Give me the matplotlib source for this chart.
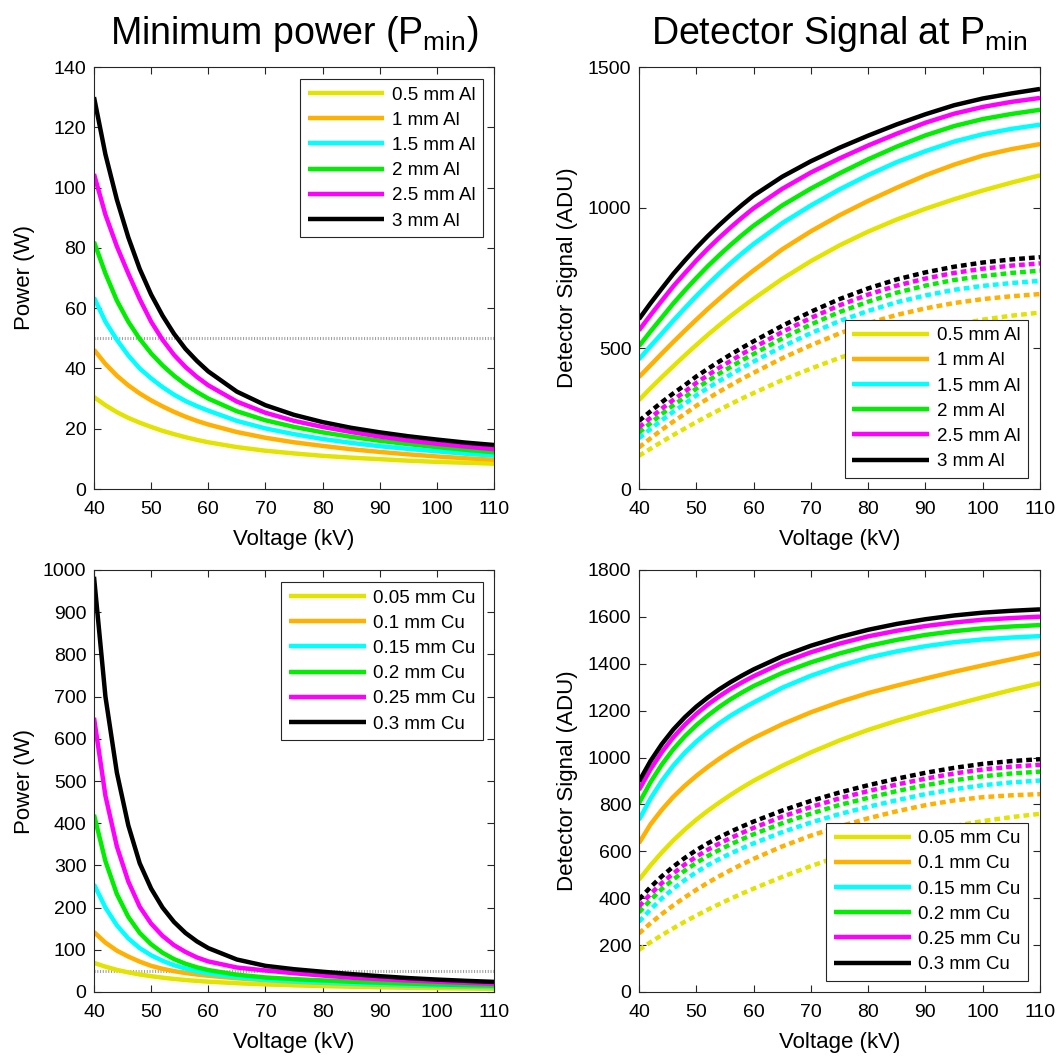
import matplotlib
matplotlib.use("Agg")
import matplotlib.pyplot as plt

plt.rcParams['font.family'] = ['Liberation Sans', 'DejaVu Sans']
plt.rcParams['mathtext.fontset'] = 'custom'
plt.rcParams['mathtext.rm'] = 'Liberation Sans'
plt.rcParams['mathtext.it'] = 'Liberation Sans:italic'

# Tube voltage grid (kV)
voltage = [40, 42, 44, 46, 48, 50, 52, 54, 56, 58, 60, 65, 70, 75, 80, 85, 90, 95, 100, 105, 110]

colors = ['#e3e300', '#ffb000', '#00ffff', '#00ee00', '#ff00ff', '#000000']
al_labels = ['0.5 mm Al', '1 mm Al', '1.5 mm Al', '2 mm Al', '2.5 mm Al', '3 mm Al']
cu_labels = ['0.05 mm Cu', '0.1 mm Cu', '0.15 mm Cu', '0.2 mm Cu', '0.25 mm Cu', '0.3 mm Cu']

# Minimum power (W), aluminium filters
pmin_al_05 = [30.5, 27.8, 25.5, 23.6, 22, 20.6, 19.3, 18.2, 17.2, 16.3, 15.5, 13.9, 12.7, 11.8, 11, 10.4, 9.9, 9.4, 9, 8.7, 8.4]
pmin_al_10 = [46.2, 41.5, 37.6, 34.4, 31.7, 29.4, 27.4, 25.6, 24, 22.6, 21.4, 18.9, 17, 15.5, 14.3, 13.2, 12.3, 11.5, 10.8, 10.2, 9.7]
pmin_al_15 = [63.5, 55.5, 49.5, 44.3, 40, 36.7, 33.8, 31.3, 29.2, 27.5, 26, 22.6, 20.1, 18.2, 16.6, 15.3, 14.2, 13.3, 12.5, 11.7, 11.1]
pmin_al_20 = [82, 71.5, 62.5, 55.5, 49.8, 45, 41, 37.6, 34.7, 32.2, 30, 25.8, 22.8, 20.6, 18.8, 17.3, 16, 14.9, 13.9, 13, 12.2]
pmin_al_25 = [104.5, 91, 80.5, 71.5, 63, 55.5, 49.5, 44.5, 40.5, 37.2, 34.4, 29, 25.3, 22.6, 20.6, 18.9, 17.4, 16.1, 15, 14.1, 13.2]
pmin_al_30 = [130, 111, 96, 83.5, 73, 64.5, 57.5, 51.5, 46.5, 42.5, 39, 32.3, 27.8, 24.6, 22.2, 20.3, 18.8, 17.5, 16.4, 15.4, 14.6]

# Minimum power (W), copper filters
pmin_cu_005 = [69, 60, 52.5, 46.5, 41.5, 37.5, 34, 31, 28.5, 26.3, 24.5, 20.8, 18, 15.8, 14, 12.5, 11.2, 10, 9, 8.1, 7.4]
pmin_cu_010 = [142, 117, 98, 84, 72, 62, 55, 49.5, 45, 41.5, 38.5, 32.5, 28, 24.5, 21.7, 19.3, 17.2, 15.4, 13.8, 12.4, 11.2]
pmin_cu_015 = [255, 200, 158, 127, 104, 87, 74, 63.5, 55.5, 49, 44, 35, 29.3, 25.7, 22.8, 20.3, 18.2, 16.4, 14.9, 13.6, 12.6]
pmin_cu_020 = [420, 310, 232, 178, 140, 113, 93, 78, 67, 58.5, 52, 41, 34.5, 30.5, 27.5, 24.5, 22, 20, 18, 16.3, 15]
pmin_cu_025 = [650, 465, 345, 262, 202, 162, 133, 111, 95, 82, 72.5, 58, 51, 44.5, 39, 34, 30.5, 27.3, 24.5, 21.8, 19.5]
pmin_cu_030 = [984, 700, 520, 395, 305, 245, 200, 166, 140, 120, 104, 77, 62, 54, 48, 42.5, 37.5, 33, 29.5, 26.5, 24]

# Detector signal (ADU) at Pmin, aluminium filters: solid set
sig_al_05 = [316, 358, 398, 437, 475, 512, 548, 582, 615, 646, 676, 747, 810, 866, 915, 958, 996, 1030, 1061, 1089, 1115]
sig_al_10 = [398, 440, 482, 523, 563, 602, 640, 676, 711, 745, 777, 852, 916, 973, 1024, 1071, 1115, 1153, 1185, 1208, 1226]
sig_al_15 = [461, 508, 553, 599, 643, 686, 727, 766, 803, 838, 871, 945, 1008, 1065, 1116, 1162, 1201, 1235, 1261, 1280, 1295]
sig_al_20 = [508, 560, 610, 660, 706, 750, 792, 831, 868, 903, 936, 1008, 1068, 1122, 1172, 1217, 1257, 1290, 1315, 1333, 1348]
sig_al_25 = [564, 618, 670, 721, 767, 812, 854, 893, 930, 965, 998, 1067, 1125, 1175, 1221, 1263, 1302, 1334, 1358, 1376, 1390]
sig_al_30 = [604, 660, 713, 765, 812, 857, 899, 938, 975, 1010, 1043, 1110, 1165, 1213, 1256, 1296, 1332, 1364, 1388, 1406, 1422]

# Detector signal (ADU) at Pmin, aluminium filters: dotted set
sig2_al_05 = [118, 143, 168, 192, 215, 238, 260, 281, 302, 322, 341, 387, 428, 466, 500, 531, 558, 582, 602, 616, 627]
sig2_al_10 = [148, 180, 211, 240, 267, 296, 321, 346, 369, 392, 413, 465, 511, 553, 589, 619, 642, 661, 675, 685, 693]
sig2_al_15 = [181, 213, 245, 275, 303, 333, 359, 384, 407, 431, 453, 506, 554, 597, 633, 664, 688, 708, 722, 732, 740]
sig2_al_20 = [201, 234, 267, 298, 326, 357, 384, 410, 434, 458, 480, 535, 585, 629, 666, 698, 723, 743, 757, 768, 776]
sig2_al_25 = [219, 253, 286, 317, 346, 377, 404, 431, 455, 480, 502, 558, 608, 653, 691, 723, 748, 768, 783, 794, 802]
sig2_al_30 = [242, 276, 309, 340, 369, 400, 427, 453, 478, 502, 525, 580, 630, 675, 713, 745, 770, 790, 805, 816, 824]

# Detector signal (ADU) at Pmin, copper filters: solid set
sig_cu_005 = [479, 540, 596, 647, 693, 735, 773, 808, 841, 872, 901, 965, 1022, 1073, 1118, 1157, 1192, 1225, 1257, 1288, 1317]
sig_cu_010 = [635, 715, 778, 833, 880, 922, 960, 995, 1027, 1056, 1083, 1142, 1193, 1237, 1275, 1307, 1337, 1366, 1393, 1419, 1445]
sig_cu_015 = [734, 825, 901, 966, 1021, 1068, 1109, 1146, 1179, 1208, 1235, 1298, 1349, 1391, 1426, 1453, 1475, 1492, 1504, 1512, 1518]
sig_cu_020 = [805, 895, 971, 1036, 1091, 1138, 1179, 1216, 1249, 1278, 1305, 1361, 1406, 1444, 1476, 1502, 1523, 1539, 1551, 1559, 1565]
sig_cu_025 = [862, 950, 1024, 1087, 1140, 1186, 1226, 1261, 1293, 1321, 1347, 1404, 1449, 1486, 1517, 1541, 1561, 1576, 1588, 1595, 1601]
sig_cu_030 = [898, 985, 1058, 1120, 1172, 1217, 1256, 1291, 1322, 1350, 1376, 1432, 1477, 1514, 1545, 1570, 1590, 1606, 1618, 1626, 1632]

# Detector signal (ADU) at Pmin, copper filters: dotted set
sig2_cu_005 = [180, 212, 243, 272, 300, 326, 351, 375, 398, 420, 441, 491, 537, 579, 617, 651, 682, 708, 729, 746, 760]
sig2_cu_010 = [250, 293, 333, 370, 404, 436, 466, 494, 520, 545, 568, 621, 667, 706, 741, 771, 797, 817, 831, 839, 844]
sig2_cu_015 = [300, 352, 400, 441, 478, 511, 541, 567, 591, 613, 634, 682, 723, 759, 790, 818, 844, 865, 882, 894, 902]
sig2_cu_020 = [340, 392, 440, 480, 518, 551, 580, 606, 630, 652, 673, 720, 761, 798, 828, 857, 882, 903, 920, 932, 940]
sig2_cu_025 = [365, 418, 465, 506, 544, 577, 607, 633, 657, 679, 700, 748, 789, 826, 857, 885, 910, 932, 949, 961, 969]
sig2_cu_030 = [395, 447, 494, 535, 572, 605, 634, 660, 684, 706, 727, 774, 815, 851, 882, 910, 935, 956, 973, 985, 993]

pmin_al = [pmin_al_05, pmin_al_10, pmin_al_15, pmin_al_20, pmin_al_25, pmin_al_30]
pmin_cu = [pmin_cu_005, pmin_cu_010, pmin_cu_015, pmin_cu_020, pmin_cu_025, pmin_cu_030]
sig_al = [sig_al_05, sig_al_10, sig_al_15, sig_al_20, sig_al_25, sig_al_30]
sig2_al = [sig2_al_05, sig2_al_10, sig2_al_15, sig2_al_20, sig2_al_25, sig2_al_30]
sig_cu = [sig_cu_005, sig_cu_010, sig_cu_015, sig_cu_020, sig_cu_025, sig_cu_030]
sig2_cu = [sig2_cu_005, sig2_cu_010, sig2_cu_015, sig2_cu_020, sig2_cu_025, sig2_cu_030]

power_limit = 50

TICK_FS = 14
LABEL_FS = 16
LEG_FS = 13.5
TITLE_FS = 27
LW = 3.2
AX_COLOR = '0.15'

fig = plt.figure(figsize=(10.6, 10.57), dpi=100)
W, H = 1060, 1057


def make_axes(left_px, top_px, w_px=400, h_px=422):
    return fig.add_axes([left_px / W, 1 - (top_px + h_px) / H, w_px / W, h_px / H])


def style(ax, yticks):
    ax.set_xlim(40, 110)
    ax.set_xticks(range(40, 111, 10))
    ax.set_ylim(yticks[0], yticks[-1])
    ax.set_yticks(yticks)
    ax.tick_params(direction='in', top=True, right=True, length=5, width=0.8,
                   labelsize=TICK_FS, colors=AX_COLOR, labelcolor='black')
    ax.tick_params(axis='x', pad=8.5)
    ax.tick_params(axis='y', pad=5.5)
    for s in ax.spines.values():
        s.set_color(AX_COLOR)
        s.set_linewidth(0.8)
    ax.set_xlabel('Voltage (kV)', fontsize=LABEL_FS, labelpad=8)


def add_legend(ax, labels, loc, anchor):
    leg = ax.legend(labels=labels, handles=ax.lines[:6], loc=loc, bbox_to_anchor=anchor,
                    fontsize=LEG_FS, handlelength=4.1, handletextpad=0.4,
                    labelspacing=0.43, borderpad=0.4, borderaxespad=0,
                    fancybox=False, framealpha=1, edgecolor=AX_COLOR)
    leg.get_frame().set_linewidth(0.8)


def power_panel(ax, series, labels, yticks):
    for vals, c in zip(series, colors):
        ax.plot(voltage, vals, color=c, lw=LW, solid_capstyle='butt', solid_joinstyle='round')
    ax.axhline(power_limit, color='#a0a0a0', lw=2.2, linestyle=(0, (0.35, 0.55)), zorder=1)
    style(ax, yticks)
    ax.set_ylabel('Power (W)', fontsize=LABEL_FS)
    ax.yaxis.set_label_coords(-0.148, 0.5)
    add_legend(ax, labels, 'upper right', (0.9725, 0.9716))


def signal_panel(ax, solid, dotted, labels, yticks):
    for vals, c in zip(solid, colors):
        ax.plot(voltage, vals, color=c, lw=LW, solid_capstyle='butt', solid_joinstyle='round')
    for vals, c in zip(dotted, colors):
        ax.plot(voltage, vals, color=c, lw=LW, linestyle=(0, (1.3, 0.9)), dash_capstyle='butt')
    style(ax, yticks)
    ax.set_ylabel('Detector Signal (ADU)', fontsize=LABEL_FS)
    ax.yaxis.set_label_coords(-0.152, 0.5)
    add_legend(ax, labels, 'lower right', (0.970, 0.027))


ax1 = make_axes(94, 67)
power_panel(ax1, pmin_al, al_labels, list(range(0, 141, 20)))
ax1.set_title('Minimum power (P$_\\mathrm{min}$)', fontsize=TITLE_FS, pad=16.5)

ax2 = make_axes(639, 67, 401)
signal_panel(ax2, sig_al, sig2_al, al_labels, [0, 500, 1000, 1500])
ax2.set_title('Detector Signal at P$_\\mathrm{min}$', fontsize=TITLE_FS, pad=16.5)

ax3 = make_axes(94, 570)
power_panel(ax3, pmin_cu, cu_labels, list(range(0, 1001, 100)))

ax4 = make_axes(639, 570, 401)
signal_panel(ax4, sig_cu, sig2_cu, cu_labels, list(range(0, 1801, 200)))

fig.savefig('out.png', dpi=100)
